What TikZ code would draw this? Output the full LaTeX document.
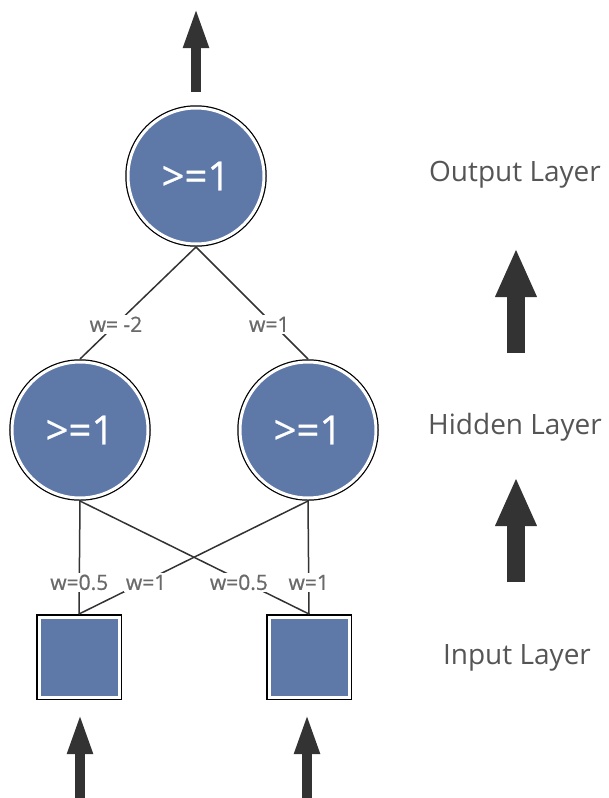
\documentclass[tikz,border=0pt]{standalone}
\usepackage{fontspec}
\setmainfont{Open Sans}
\newfontfamily\wfont{Open Sans}[FakeBold=0.8]
\usetikzlibrary{arrows.meta}
\definecolor{nodeblue}{HTML}{5E78A8}
\definecolor{darkarrow}{HTML}{333333}
\definecolor{lblgray}{HTML}{6A6A6A}
\definecolor{layergray}{HTML}{555555}
\tikzset{
  neuron/.style={circle, minimum size=136pt, inner sep=0pt, outer sep=3pt,
    fill=nodeblue, draw=white, line width=3pt,
    preaction={draw=black, line width=5.5pt},
    text=white, font=\wfont\fontsize{40}{42}\selectfont},
  inbox/.style={rectangle, minimum size=80pt, inner sep=0pt, outer sep=3pt,
    fill=nodeblue, draw=white, line width=3pt,
    preaction={draw=black, line width=6pt}},
  conn/.style={draw=darkarrow, line width=1.5pt},
  wlbl/.style={fill=white, inner sep=2pt, text=lblgray, font=\wfont\fontsize{21}{23}\selectfont},
  layerlbl/.style={text=layergray, font=\fontsize{28}{30}\selectfont},
  smallarrow/.style={draw=darkarrow, line width=10pt,
    -{Triangle[width=23pt,length=41pt]}},
  bigarrow/.style={draw=darkarrow, line width=18pt,
    -{Triangle[width=38pt,length=49pt]}},
}
\begin{document}
\begin{tikzpicture}[x=1pt,y=-1pt]
\useasboundingbox (0,0) rectangle (609,798);
% nodes
\node[neuron] (out) at (196,176) {>=1};
\node[neuron] (h1) at (80,430) {>=1};
\node[neuron] (h2) at (308,430) {>=1};
\node[inbox] (i1) at (79,657) {};
\node[inbox] (i2) at (309,657) {};
% connectors
\draw[conn] (out.south) -- (h1.north) node[wlbl, pos=0.69] {w= -2};
\draw[conn] (out.south) -- (h2.north) node[wlbl, pos=0.69, xshift=-4pt] {w=1};
\draw[conn] (h1.south) -- (i2.north) node[wlbl, pos=0.72, xshift=-6pt] {w=0.5};
\draw[conn] (h2.south) -- (i1.north) node[wlbl, pos=0.72, xshift=3pt] {w=1};
\draw[conn] (h1.south) -- (i1.north) node[wlbl, pos=0.72] {w=0.5};
\draw[conn] (h2.south) -- (i2.north) node[wlbl, pos=0.72] {w=1};
% arrows
\coordinate (outtail) at (196,92);
\coordinate (outtip) at (196,7);
\draw[smallarrow] (outtail) -- (outtip);
\coordinate (in1tail) at (80,798);
\coordinate (in1tip) at (80,713);
\draw[smallarrow] (in1tail) -- (in1tip);
\coordinate (in2tail) at (307,798);
\coordinate (in2tip) at (307,713);
\draw[smallarrow] (in2tail) -- (in2tip);
% layer labels
\node[layerlbl] (lout) at (515,175) {Output Layer};
\node[layerlbl] (lhid) at (515,427) {Hidden Layer};
\node[layerlbl] (linp) at (517,658) {Input Layer};
\coordinate (ra1tail) at (516,353);
\coordinate (ra1tip) at (516,248);
\draw[bigarrow] (ra1tail) -- (ra1tip);
\coordinate (ra2tail) at (516,582);
\coordinate (ra2tip) at (516,477);
\draw[bigarrow] (ra2tail) -- (ra2tip);
\end{tikzpicture}
\end{document}
